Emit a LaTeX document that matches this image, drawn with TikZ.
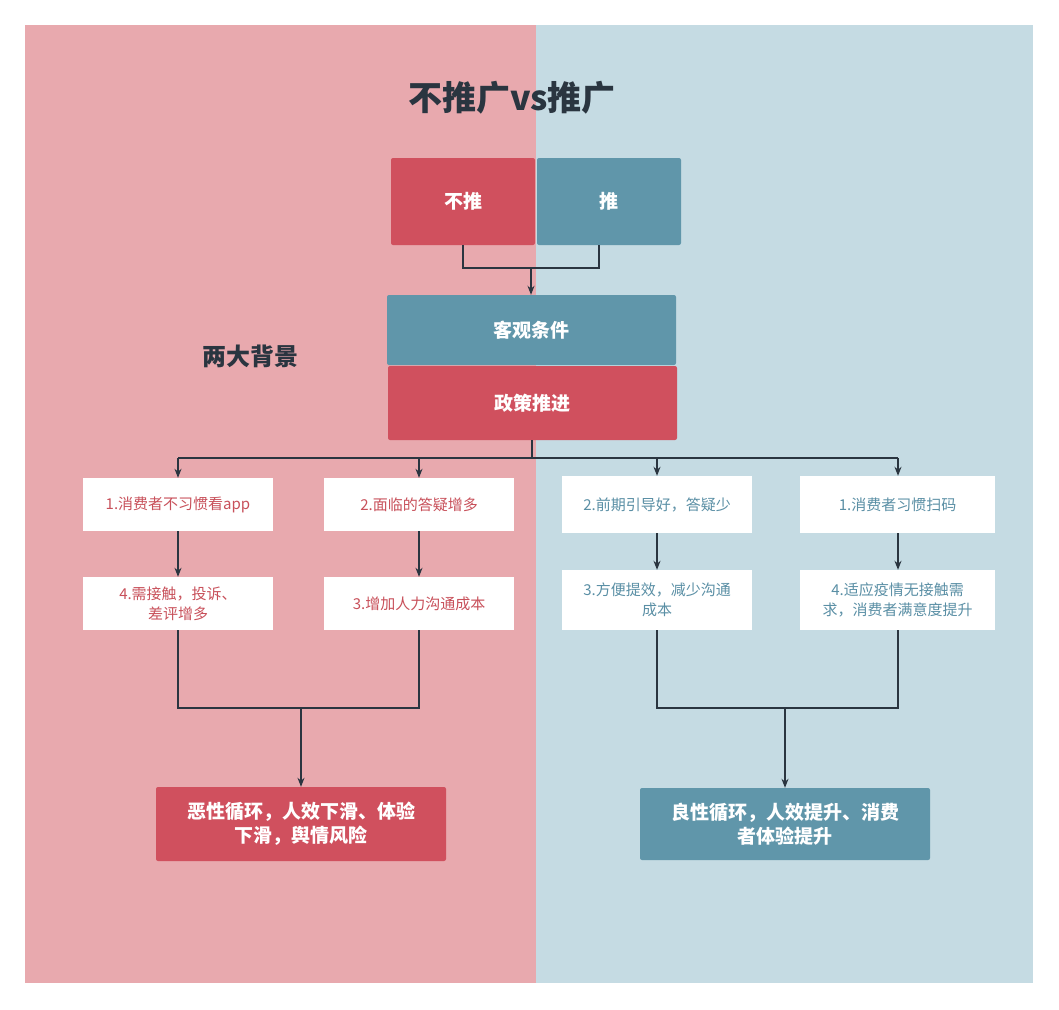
\documentclass[tikz,border=0pt]{standalone}
\usepackage{fontspec}
\setmainfont{Noto Sans CJK SC}
\usetikzlibrary{arrows.meta}
\definecolor{pinkbg}{HTML}{E8A9AE}
\definecolor{bluebg}{HTML}{C5DBE3}
\definecolor{redbox}{HTML}{D0505E}
\definecolor{bluebox}{HTML}{6096AA}
\definecolor{redtxt}{HTML}{C8505A}
\definecolor{bluetxt}{HTML}{5A8FA5}
\definecolor{dark}{HTML}{2A3540}
\begin{document}
\begin{tikzpicture}[x=1pt,y=-1pt,
  solid box/.style={rounded corners=2pt,inner sep=0pt,text=white,font=\bfseries\fontsize{19}{24}\selectfont,align=center},
  wbox/.style={fill=white,inner sep=0pt,align=center,font=\fontsize{15}{20}\selectfont},
  conn/.style={draw=dark,line width=1.3pt},
  arr/.style={conn,-{Stealth[length=9pt,width=7pt]}}]
\useasboundingbox (0,0) rectangle (1059,1009);
\fill[white] (0,0) rectangle (1059,1009);
\fill[pinkbg] (25,25) rectangle (536,983);
\fill[bluebg] (536,25) rectangle (1033,983);
\node[font=\bfseries\fontsize{34}{40}\selectfont,text=dark] (title) at (512,98) {不推广vs推广};
\node[font=\bfseries\fontsize{24}{30}\selectfont,text=dark] (bg) at (250,356) {两大背景};
\node[solid box,fill=redbox,minimum width=144pt,minimum height=87pt] (bt) at (463,201.5) {不推};
\node[solid box,fill=bluebox,minimum width=144pt,minimum height=87pt] (t) at (609,201.5) {推};
\node[solid box,fill=bluebox,minimum width=289pt,minimum height=70pt] (kg) at (531.5,330) {客观条件};
\node[solid box,fill=redbox,minimum width=289pt,minimum height=74pt] (zc) at (532.5,403) {政策推进};
\coordinate (j1) at (531,268);
\draw[conn] (bt.south) -- (463,268) -- (599,268) -- (599,245);
\draw[arr] (j1) -- (kg.north -| j1);
% row 1
\node[wbox,text=redtxt,minimum width=190pt,minimum height=53pt] (a1) at (178,504.5) {1.消费者不习惯看app};
\node[wbox,text=redtxt,minimum width=190pt,minimum height=53pt] (a2) at (419,504.5) {2.面临的答疑增多};
\node[wbox,text=bluetxt,minimum width=190pt,minimum height=57pt] (b2) at (657,504.5) {2.前期引导好，答疑少};
\node[wbox,text=bluetxt,minimum width=195pt,minimum height=57pt] (b1) at (897.5,504.5) {1.消费者习惯扫码};
% row 2
\node[wbox,text=redtxt,minimum width=190pt,minimum height=53pt] (a4) at (178,603.5) {4.需接触，投诉、\\差评增多};
\node[wbox,text=redtxt,minimum width=190pt,minimum height=53pt] (a3) at (419,603.5) {3.增加人力沟通成本};
\node[wbox,text=bluetxt,minimum width=190pt,minimum height=60pt] (b3) at (657,600) {3.方便提效，减少沟通\\成本};
\node[wbox,text=bluetxt,minimum width=195pt,minimum height=60pt] (b4) at (897.5,600) {4.适应疫情无接触需\\求，消费者满意度提升};
% distribution
\coordinate (j2) at (532,458);
\draw[conn] (zc.south -| j2) -- (j2);
\draw[conn] (178,458) -- (898,458);
\foreach \n/\x in {a1/178,a2/419,b2/657,b1/898}
  \draw[arr] (\x,458) -- (\n.north -| \x,0);
\draw[arr] (a1) -- (a4);
\draw[arr] (a2) -- (a3);
\draw[arr] (b2) -- (b3);
\draw[arr] (b1.south -| 898,0) -- (b4.north -| 898,0);
% bottom
\node[solid box,fill=redbox,minimum width=290pt,minimum height=74pt] (ra) at (301,824) {恶性循环，人效下滑、体验\\下滑，舆情风险};
\node[solid box,fill=bluebox,minimum width=290pt,minimum height=72pt] (ga) at (785,824) {良性循环，人效提升、消费\\者体验提升};
\draw[conn] (a4.south) -- (178,708) -- (419,708) -- (a3.south);
\draw[arr] (301,708) -- (ra.north);
\draw[conn] (b3.south) -- (657,708) -- (898,708) -- (b4.south -| 898,0);
\draw[arr] (785,708) -- (ga.north);
\end{tikzpicture}
\end{document}
